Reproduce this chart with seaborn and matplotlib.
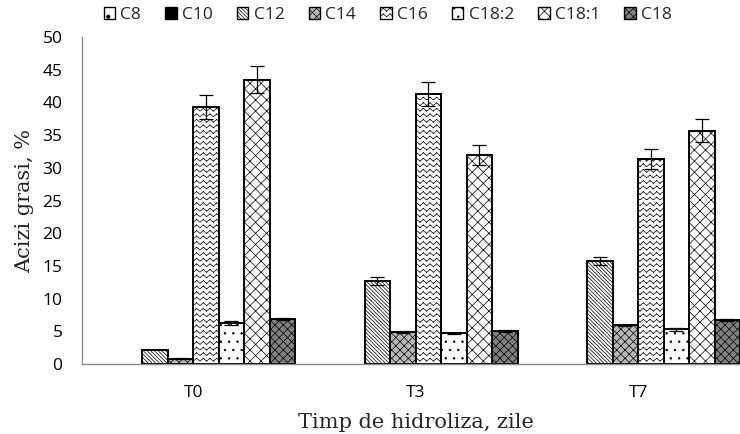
import warnings
import numpy as np
import pandas as pd
import matplotlib
matplotlib.use("Agg")
import matplotlib.pyplot as plt
from matplotlib.path import Path
from matplotlib.patches import Patch
from matplotlib import hatch as mhatch
import seaborn as sns

# ---- data -----------------------------------------------------------------
groups = ["T0", "T3", "T7"]
acids = ["C8", "C10", "C12", "C14", "C16", "C18:2", "C18:1", "C18"]

c8 = [0.0, 0.0, 0.0]
c10 = [0.0, 0.0, 0.0]
c12 = [2.1, 12.7, 15.7]
c14 = [0.8, 4.9, 5.9]
c16 = [39.3, 41.3, 31.3]
c18_2 = [6.3, 4.7, 5.3]
c18_1 = [43.5, 32.0, 35.7]
c18 = [6.9, 5.0, 6.7]

err_c8 = [0.0, 0.0, 0.0]
err_c10 = [0.0, 0.0, 0.0]
err_c12 = [0.0, 0.6, 0.6]
err_c14 = [0.1, 0.2, 0.1]
err_c16 = [1.9, 1.85, 1.5]
err_c18_2 = [0.3, 0.1, 0.2]
err_c18_1 = [2.0, 1.5, 1.75]
err_c18 = [0.2, 0.15, 0.2]

y_ticks = [0, 5, 10, 15, 20, 25, 30, 35, 40, 45, 50]
x_title = "Timp de hidroliza, zile"
y_title = "Acizi grasi, %"

values = [c8, c10, c12, c14, c16, c18_2, c18_1, c18]
errors = [err_c8, err_c10, err_c12, err_c14, err_c16, err_c18_2, err_c18_1, err_c18]


# ---- zig-zag hatch (wavy lines), built from separate strokes ---------------
class ZigZagHatch(mhatch.HatchPatternBase):
    def __init__(self, hatch, density):
        self.num_lines = int(hatch.count("z") * density)
        self.segments = 30
        self.num_vertices = self.num_lines * self.segments * 2

    def set_vertices_and_codes(self, vertices, codes):
        n = self.num_lines
        s = self.segments
        xs = np.linspace(0.0, 1.0, s + 1)
        amp = 0.5 / n
        k = 0
        for i in range(n):
            ys = i / n + amp * (np.arange(s + 1) % 2)
            for j in range(s):
                vertices[k] = (xs[j], ys[j])
                vertices[k + 1] = (xs[j + 1], ys[j + 1])
                codes[k] = Path.MOVETO
                codes[k + 1] = Path.LINETO
                k += 2


mhatch._hatch_types.append(ZigZagHatch)
warnings.filterwarnings("ignore")

# ---- styles per series ----------------------------------------------------
styles = {
    "C8": dict(face="white", hatch="."),
    "C10": dict(face="black", hatch=""),
    "C12": dict(face="white", hatch="\\" * 9),
    "C14": dict(face="#b8b8b8", hatch="xxxx"),
    "C16": dict(face="white", hatch="zzz"),
    "C18:2": dict(face="white", hatch=".."),
    "C18:1": dict(face="white", hatch="xxx"),
    "C18": dict(face="#808080", hatch="xxxx"),
}

df = pd.DataFrame(
    [(g, a, v) for a, vals in zip(acids, values) for g, v in zip(groups, vals)],
    columns=["grup", "acid", "val"],
)

sns.set_theme(style="white")
plt.rcParams["font.family"] = ["Open Sans", "DejaVu Sans"]
plt.rcParams["hatch.linewidth"] = 0.5

fig = plt.figure(figsize=(7.4, 4.34), dpi=100)
ax = fig.add_axes([0.1108, 0.1613, 0.902, 0.7534])

sns.barplot(
    data=df, x="grup", y="val", hue="acid", order=groups, hue_order=acids,
    width=0.917, errorbar=None, legend=False, ax=ax,
)

for acid, cont, errs in zip(acids, ax.containers, errors):
    st = styles[acid]
    xs, hs = [], []
    for bar in cont:
        bar.set_facecolor(st["face"])
        bar.set_edgecolor("black")
        bar.set_hatch(st["hatch"])
        bar.set_linewidth(1.4 if bar.get_height() > 0 else 0)
        xs.append(bar.get_x() + bar.get_width() / 2)
        hs.append(bar.get_height())
    xs, hs, errs = np.array(xs), np.array(hs), np.array(errs)
    m = errs > 0
    if m.any():
        ax.errorbar(xs[m], hs[m], yerr=errs[m], fmt="none", ecolor="black",
                    elinewidth=0.9, capsize=5, capthick=0.9, zorder=5)

ax.set_xlim(-0.5, 2.5)
ax.set_ylim(0, 50)
ax.set_yticks(y_ticks)
ax.tick_params(axis="both", length=0, labelsize=12.5, colors="black")
ax.tick_params(axis="y", pad=14)
ax.tick_params(axis="x", pad=15)

for side in ("top", "right"):
    ax.spines[side].set_visible(False)
for side in ("left", "bottom"):
    ax.spines[side].set_color("#8c8c8c")
    ax.spines[side].set_linewidth(1.0)

ax.set_xlabel(x_title, family="DejaVu Serif", fontsize=15, labelpad=9)
ax.set_ylabel(y_title, family="DejaVu Serif", fontsize=15, labelpad=6)

handles = [
    Patch(facecolor=styles[a]["face"], edgecolor="black",
          hatch=styles[a]["hatch"], linewidth=1.0, label=a)
    for a in acids
]
fig.legend(handles=handles, loc="center", bbox_to_anchor=(0.524, 0.965),
           ncol=8, frameon=False, fontsize=12.5, handlelength=0.65,
           handleheight=0.65, handletextpad=0.3, columnspacing=1.4,
           borderpad=0.1)

fig.savefig("out.png", dpi=100)
